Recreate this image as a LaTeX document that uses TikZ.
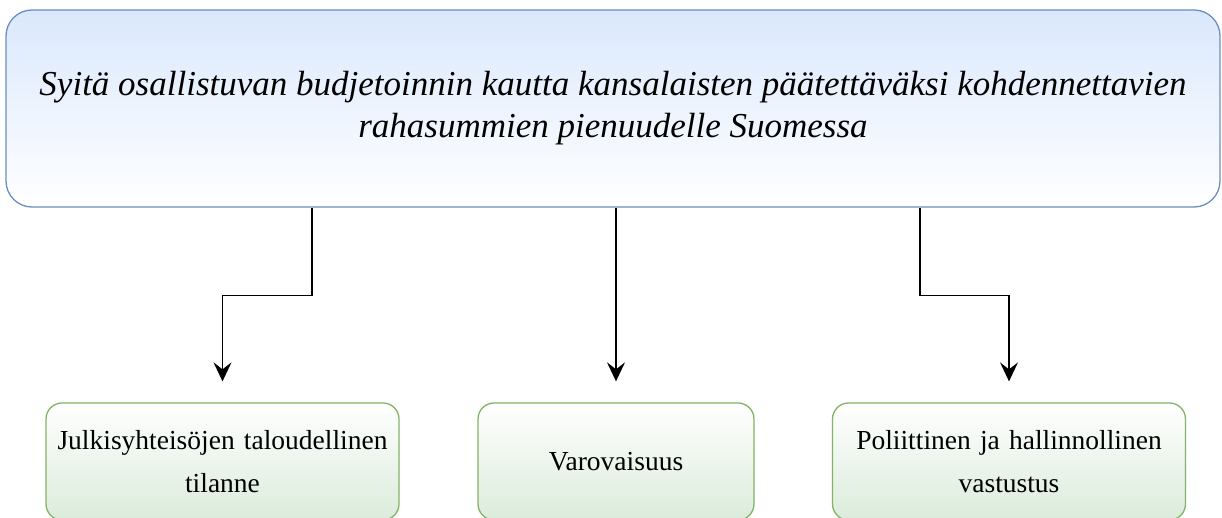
\documentclass[tikz,border=0pt]{standalone}
\usepackage{fontspec}
\setmainfont{Liberation Serif}
\usetikzlibrary{arrows.meta,positioning}
\definecolor{sininen}{HTML}{DAE8FC}
\definecolor{sinireuna}{HTML}{6C8EBF}
\definecolor{vihrea}{HTML}{D5E8D4}
\definecolor{vihreareuna}{HTML}{82B366}

\begin{document}
\begin{tikzpicture}[x=1pt,y=-1pt,
    syy/.style={draw=sinireuna, line width=1.3pt, rounded corners=26pt,
      top color=sininen, bottom color=white, align=center,
      minimum width=1214pt, minimum height=197pt, font=\fontsize{35}{42}\selectfont\itshape},
    tekija/.style={draw=vihreareuna, line width=1.3pt, rounded corners=16pt,
      top color=white, bottom color=vihrea!85, align=center,
      minimum width=353pt, minimum height=117pt, text width=340pt,
      font=\fontsize{27.5}{43}\selectfont},
    nuoli/.style={line width=1.4pt, -{Stealth[length=19pt,width=18pt,inset=7pt]}, shorten >=21pt}]
  \useasboundingbox (0,0) rectangle (1222,518);
  \node[syy] (syyt) at (613,108.5) {Syitä osallistuvan budjetoinnin kautta kansalaisten päätettäväksi kohdennettavien\\rahasummien pienuudelle Suomessa};
  \node[tekija] (talous) at (222.5,461.5) {Julkisyhteisöjen taloudellinen\\tilanne};
  \node[tekija,minimum width=276pt,text width=260pt] (varo) at (616,461.5) {Varovaisuus};
  \node[tekija] (vastustus) at (1009,461.5) {Poliittinen ja hallinnollinen\\vastustus};
  \draw[nuoli] (syyt.south -| 312,0) -- ++(0,88) -| (talous.north);
  \draw[nuoli] (syyt.south -| varo.north) -- (varo.north);
  \draw[nuoli] (syyt.south -| 920,0) -- ++(0,88) -| (vastustus.north);
\end{tikzpicture}
\end{document}
